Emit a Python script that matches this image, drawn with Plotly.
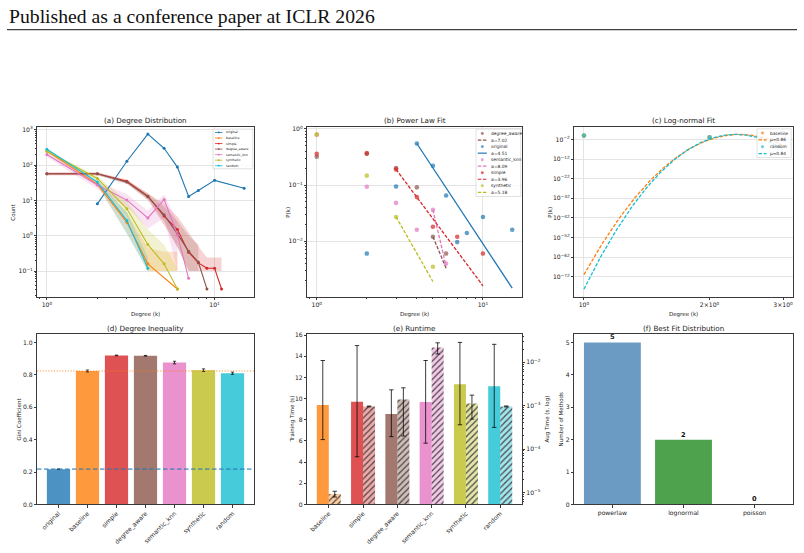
import numpy as np
import plotly.graph_objects as go

W, H = 804, 553
FONT = "DejaVu Sans"

# ------------------------------------------------------------------ data
METHODS = ["original", "baseline", "simple", "degree_aware", "semantic_knn", "synthetic", "random"]
COLORS = ["#1f77b4", "#ff7f0e", "#d62728", "#8c564b", "#e377c2", "#bcbd22", "#17becf"]

# (a) degree distribution (counts)
ORIG_K = [2, 3, 4, 5, 6, 7, 8, 10, 15]
ORIG_COUNT = [8, 129, 758, 300, 88, 13, 19, 37, 22]

BASE_K = [1, 2, 3, 4, 6]
BASE_MEAN = [250, 29, 2.4, 0.16, 0.031]
BASE_BAND_K = [1, 2, 3, 4, 5, 6]
BASE_LO = [232, 25, 1.2, 0.1, 0.1, 0.1]
BASE_HI = [268, 33, 4.5, 0.45, 0.35, 0.35]

SIMPLE_K = [1, 2, 3, 4, 5, 6, 7, 8, 9, 10, 11]
SIMPLE_MEAN = [57, 57, 34.8, 13.2, 3.6, 1.5, 0.34, 0.17, 0.12, 0.12, 0.031]
SIMPLE_BAND_K = [1, 2, 3, 4, 5, 6, 7, 8, 9, 10, 11]
SIMPLE_LO = [52, 52, 30, 10.5, 2.0, 0.5, 0.1, 0.1, 0.1, 0.1, 0.1]
SIMPLE_HI = [62, 62, 39, 16.5, 8, 3.5, 1.2, 0.5, 0.24, 0.24, 0.24]

DA_K = [1, 2, 3, 4, 5, 6, 7, 8, 9]
DA_MEAN = [57, 57, 33, 12.7, 3.9, 1.13, 0.36, 0.18, 0.031]
DA_BAND_K = [1, 2, 3, 4, 5, 6, 7, 8]
DA_LO = [52, 52, 29, 10.5, 2.5, 0.45, 0.1, 0.1]
DA_HI = [62, 62, 37, 15.5, 6.5, 2.6, 1.0, 0.55]

SEM_K = [1, 2, 3, 4, 5, 6, 7]
SEM_MEAN = [200, 27.5, 10.2, 3.2, 10.6, 1.07, 0.062]
SEM_BAND_K = [1, 2, 3, 4, 5, 6]
SEM_LO = [170, 21, 6.5, 1.6, 3.2, 0.1]
SEM_HI = [232, 35, 15, 5.2, 15, 2.5]

SYN_K = [1, 2, 3, 4, 5, 6]
SYN_MEAN = [246, 42, 5.8, 0.56, 0.16, 0.031]
SYN_BAND_K = [1, 2, 3, 4, 5, 6]
SYN_LO = [228, 36, 3.5, 0.1, 0.1, 0.1]
SYN_HI = [264, 49, 9.5, 1.5, 0.55, 0.12]

RAND_K = [1, 2, 3, 4]
RAND_MEAN = [280, 33, 2.7, 0.12]
RAND_BAND_K = [1, 2, 3, 4]
RAND_LO = [262, 29, 1.1, 0.1]
RAND_HI = [298, 37, 4.6, 0.25]

# (b) power-law fits: P(k) points and fitted segments
PL_ORDER = ["degree_aware", "original", "semantic_knn", "simple", "synthetic"]
PL_DA_K = [1, 2, 3, 4, 5, 6]
PL_DA_P = [0.32, 0.36, 0.2, 0.091, 0.012, 0.006]
PL_ORIG_K = [2, 3, 4, 5, 6, 7, 8, 10, 15]
PL_ORIG_P = [0.006, 0.094, 0.55, 0.22, 0.065, 0.0096, 0.014, 0.027, 0.016]
PL_SEM_K = [1, 2, 3, 4, 5, 6]
PL_SEM_P = [0.79, 0.093, 0.048, 0.016, 0.036, 0.004]
PL_SIM_K = [1, 2, 3, 4, 5, 7, 10]
PL_SIM_P = [0.36, 0.37, 0.19, 0.061, 0.018, 0.012, 0.006]
PL_SYN_K = [1, 2, 3, 5]
PL_SYN_P = [0.80, 0.147, 0.027, 0.0035]
PL_ALPHA = [7.02, 4.51, 8.09, 3.96, 5.18]
PL_FIT_K = [[5, 6], [4, 15], [5, 6], [3, 10], [3, 5]]
PL_FIT_P = [[0.012, 0.0033], [0.55, 0.00145], [0.036, 0.0036], [0.19, 0.0016], [0.027, 0.0019]]

# (c) log-normal fits
LN_NAMES = ["baseline", "random"]
LN_K = [1, 2]
LN_BASE_P = [0.888, 0.103]
LN_RAND_P = [0.886, 0.104]
LN_MU = [0.86, 0.84]
LN_SIGMA = [0.0473, 0.0440]
LN_KMAX = 3

# (d) Gini coefficient
GINI = [0.218, 0.824, 0.920, 0.918, 0.876, 0.829, 0.810]
GINI_ERR = [None, 0.006, 0.002, 0.002, 0.008, 0.008, 0.007]

# (e) runtime
RT_METHODS = METHODS[1:]
TRAIN_T = [9.40, 9.71, 8.56, 9.68, 11.36, 11.18]
TRAIN_ERR_UP = [4.2, 5.3, 2.27, 3.92, 3.95, 3.95]
TRAIN_ERR_DN = [3.27, 5.2, 2.15, 3.89, 3.83, 3.9]
AUG_T = [9.2e-6, 9.6e-4, 1.39e-3, 0.0219, 1.12e-3, 9.6e-4]
AUG_ERR = [1.4e-6, 2.0e-5, 1.19e-3, 0.0063, 6.3e-4, 2.5e-5]

# (f) best fit distribution
FIT_NAMES = ["powerlaw", "lognormal", "poisson"]
FIT_COUNTS = [5, 2, 0]
FIT_COLORS = ["#4682b4", "#228b22", "#ff7f50"]

# ------------------------------------------------------------------ helpers
def rgba(hexc, a):
    h = hexc.lstrip('#')
    return f"rgba({int(h[0:2],16)},{int(h[2:4],16)},{int(h[4:6],16)},{a})"

def PX(x):
    return x / W

def PY(y):
    return 1 - y / H

def sup(base, e):
    e = str(e).replace('-', '\u2212')
    return f"{base}<sup>{e}</sup>"

CMAP = dict(zip(METHODS, COLORS))
GRID = '#e4e4e4'
AX = '#3a3a3a'
TICK_FS = 6.1
LABEL_FS = 5.5

def axstyle(**kw):
    d = dict(showline=True, mirror=True, linecolor=AX, linewidth=0.8,
             ticks='outside', ticklen=2.2, tickwidth=0.6, tickcolor=AX,
             tickfont=dict(family=FONT, size=TICK_FS, color='#222'),
             showgrid=False, zeroline=False, fixedrange=True)
    d.update(kw)
    return d

def minor_log(lo, hi):
    vals = [m * 10.0 ** e for e in range(int(np.floor(lo)) - 1, int(np.ceil(hi)) + 1)
            for m in range(2, 10)]
    vals = [v for v in vals if lo <= np.log10(v) <= hi]
    return dict(tickmode='array', tickvals=vals, ticks='outside', ticklen=1.2,
                tickwidth=0.5, tickcolor=AX, showgrid=False)

shapes = []
annotations = []

def text(x, y, s, size, angle=0, xanchor='center', yanchor='middle', family=FONT, color='#1a1a1a'):
    annotations.append(dict(text=s, x=PX(x), y=PY(y), xref='paper', yref='paper',
                            xanchor=xanchor, yanchor=yanchor, showarrow=False, textangle=angle,
                            font=dict(family=family, size=size, color=color)))

def add_legend(box, rows, y0, dy, sx0, sx1, tx, fs, r, lw=1.0):
    bx0, by0, bx1, by1 = box
    shapes.append(dict(type='rect', xref='paper', yref='paper', layer='above',
                       x0=PX(bx0), x1=PX(bx1), y0=PY(by1), y1=PY(by0),
                       fillcolor='rgba(255,255,255,0.8)', line=dict(color='#cccccc', width=0.6)))
    cx = (sx0 + sx1) / 2
    for i, (label, color, kind, dash, alpha) in enumerate(rows):
        yy = y0 + i * dy
        if 'line' in kind:
            shapes.append(dict(type='line', xref='paper', yref='paper', layer='above',
                               x0=PX(sx0), x1=PX(sx1), y0=PY(yy), y1=PY(yy),
                               line=dict(color=color, width=lw, dash=dash)))
        if 'marker' in kind:
            shapes.append(dict(type='circle', xref='paper', yref='paper', layer='above',
                               x0=PX(cx - r), x1=PX(cx + r), y0=PY(yy + r), y1=PY(yy - r),
                               fillcolor=rgba(color, alpha), line=dict(width=0)))
        annotations.append(dict(text=label, x=PX(tx), y=PY(yy), xref='paper', yref='paper',
                                xanchor='left', yanchor='middle', showarrow=False,
                                font=dict(family=FONT, size=fs, color='#222')))

fig = go.Figure()

# ------------------------------------------------------------------ (a)
A_SERIES = [
    ("baseline", BASE_K, BASE_MEAN, BASE_BAND_K, BASE_LO, BASE_HI),
    ("simple", SIMPLE_K, SIMPLE_MEAN, SIMPLE_BAND_K, SIMPLE_LO, SIMPLE_HI),
    ("degree_aware", DA_K, DA_MEAN, DA_BAND_K, DA_LO, DA_HI),
    ("semantic_knn", SEM_K, SEM_MEAN, SEM_BAND_K, SEM_LO, SEM_HI),
    ("synthetic", SYN_K, SYN_MEAN, SYN_BAND_K, SYN_LO, SYN_HI),
    ("random", RAND_K, RAND_MEAN, RAND_BAND_K, RAND_LO, RAND_HI),
]
for name, K, M, BK, LO, HI in A_SERIES:
    fig.add_trace(go.Scatter(x=BK + BK[::-1], y=HI + LO[::-1], fill='toself',
                             fillcolor=rgba(CMAP[name], 0.2), line=dict(width=0),
                             mode='lines', xaxis='x', yaxis='y', hoverinfo='skip'))
fig.add_trace(go.Scatter(x=ORIG_K, y=ORIG_COUNT, mode='lines+markers', xaxis='x', yaxis='y',
                         line=dict(color=CMAP['original'], width=1.1),
                         marker=dict(size=3, color=CMAP['original'])))
for name, K, M, BK, LO, HI in A_SERIES:
    fig.add_trace(go.Scatter(x=K, y=M, mode='lines+markers', xaxis='x', yaxis='y',
                             line=dict(color=CMAP[name], width=1.1),
                             marker=dict(size=3, color=CMAP[name])))

add_legend((213, 127.5, 252.8, 167.6),
           [(m, CMAP[m], 'line+marker', 'solid', 1.0) for m in METHODS],
           y0=130.9, dy=5.6, sx0=215, sx1=222.5, tx=224, fs=3.2, r=0.9, lw=0.8)

# ------------------------------------------------------------------ (b)
PL_POINTS = [(PL_DA_K, PL_DA_P), (PL_ORIG_K, PL_ORIG_P), (PL_SEM_K, PL_SEM_P),
             (PL_SIM_K, PL_SIM_P), (PL_SYN_K, PL_SYN_P)]
leg_b = []
for i, name in enumerate(PL_ORDER):
    c = CMAP[name]
    ks, ps = PL_POINTS[i]
    fig.add_trace(go.Scatter(x=ks, y=ps, mode='markers', xaxis='x2', yaxis='y2',
                             marker=dict(size=4.6, color=rgba(c, 0.7), line=dict(width=0))))
    dash = 'solid' if name == 'original' else '3.5px,1.6px'
    fig.add_trace(go.Scatter(x=PL_FIT_K[i], y=PL_FIT_P[i], mode='lines', xaxis='x2', yaxis='y2',
                             line=dict(color=c, width=1.3, dash=dash)))
    leg_b.append((name, c, 'marker', None, 0.7))
    leg_b.append((f"\u03b1={PL_ALPHA[i]:.2f}", c, 'line', dash, 1.0))
add_legend((476, 127.5, 520.8, 195.6), leg_b, y0=132.0, dy=6.6,
           sx0=477.8, sx1=486.8, tx=488.8, fs=4.4, r=1.5, lw=1.2)

# ------------------------------------------------------------------ (c)
LN_POINTS = [LN_BASE_P, LN_RAND_P]
leg_c = []
for i, name in enumerate(LN_NAMES):
    c = CMAP[name]
    fig.add_trace(go.Scatter(x=LN_K, y=LN_POINTS[i], mode='markers', xaxis='x3', yaxis='y3',
                             marker=dict(size=4.6, color=rgba(c, 0.7), line=dict(width=0))))
    kk = np.linspace(1, LN_KMAX, 300)
    mu, sg = LN_MU[i], LN_SIGMA[i]
    pdf = np.exp(-(np.log(kk) - mu) ** 2 / (2 * sg ** 2)) / (kk * sg * np.sqrt(2 * np.pi))
    fig.add_trace(go.Scatter(x=kk, y=pdf, mode='lines', xaxis='x3', yaxis='y3',
                             line=dict(color=c, width=1.3, dash='3.5px,1.6px')))
    leg_c.append((name, c, 'marker', None, 0.7))
    leg_c.append((f"\u03bc={mu:.2f}", c, 'line', '3.5px,1.6px', 1.0))
add_legend((757, 127.2, 791.2, 156.2), leg_c, y0=131.5, dy=6.9,
           sx0=758.5, sx1=766.5, tx=768.3, fs=4.3, r=1.5, lw=1.2)

# ------------------------------------------------------------------ (d)
fig.add_trace(go.Bar(x=list(range(len(METHODS))), y=GINI, width=0.8, xaxis='x4', yaxis='y4',
                     marker=dict(color=[rgba(c, 0.8) for c in COLORS], line=dict(width=0)),
                     error_y=dict(type='data', array=GINI_ERR, color='#111', thickness=0.8, width=1.6)))
shapes.append(dict(type='line', xref='x4 domain', yref='y4', x0=0, x1=1, y0=GINI[0], y1=GINI[0],
                   layer='above', line=dict(color=rgba(COLORS[0], 0.6), width=1.8, dash='4.5px,2.5px')))
shapes.append(dict(type='line', xref='x4 domain', yref='y4', x0=0, x1=1, y0=GINI[1], y1=GINI[1],
                   layer='above', line=dict(color=rgba(COLORS[1], 0.8), width=1.0, dash='1.2px,1.6px')))

# ------------------------------------------------------------------ (e)
RT_COLORS = COLORS[1:]
idx = np.arange(len(RT_METHODS))
fig.add_trace(go.Bar(x=idx - 0.175, y=TRAIN_T, width=0.35, xaxis='x5', yaxis='y5',
                     marker=dict(color=[rgba(c, 0.8) for c in RT_COLORS], line=dict(width=0)),
                     error_y=dict(type='data', symmetric=False, array=TRAIN_ERR_UP,
                                  arrayminus=TRAIN_ERR_DN, color='rgba(0,0,0,0.85)',
                                  thickness=0.9, width=2.2)))
fig.add_trace(go.Bar(x=idx + 0.175, y=AUG_T, width=0.35, xaxis='x5', yaxis='y7',
                     marker=dict(color=[rgba(c, 0.4) for c in RT_COLORS], line=dict(width=0),
                                 pattern=dict(shape='/', fgcolor='#1a1a1a', fgopacity=0.95, size=4.3,
                                              solidity=0.3, fillmode='overlay')),
                     error_y=dict(type='data', array=AUG_ERR, color='rgba(0,0,0,0.85)',
                                  thickness=0.9, width=2.2)))

# ------------------------------------------------------------------ (f)
fig.add_trace(go.Bar(x=list(range(len(FIT_NAMES))), y=FIT_COUNTS, width=0.8, xaxis='x6', yaxis='y6',
                     marker=dict(color=[rgba(c, 0.8) for c in FIT_COLORS], line=dict(width=0))))
for i, v in enumerate(FIT_COUNTS):
    annotations.append(dict(text=f"<b>{v}</b>", x=i, y=v, xref='x6', yref='y6',
                            xanchor='center', yanchor='bottom', showarrow=False, borderpad=0,
                            font=dict(family=FONT, size=6.6, color='#111')))

# ------------------------------------------------------------------ layout / axes
COLS = [(37, 254), (307, 522), (574, 793)]
ROWS = [(125, 297), (335, 507)]

def dom_x(c):
    return [PX(COLS[c][0]), PX(COLS[c][1])]

def dom_y(r):
    return [PY(ROWS[r][1]), PY(ROWS[r][0])]

lay = dict(width=W, height=H, margin=dict(l=0, r=0, t=0, b=0),
           paper_bgcolor='white', plot_bgcolor='white', showlegend=False,
           barmode='overlay', font=dict(family=FONT, color='#222'))

# (a)
lay['xaxis'] = axstyle(domain=dom_x(0), anchor='y', type='log', range=[-0.0588, 1.2349],
                       tickvals=[1, 10], ticktext=[sup(10, 0), sup(10, 1)],
                       showgrid=True, gridcolor=GRID, gridwidth=0.6, minor=minor_log(-0.0588, 1.2349))
lay['yaxis'] = axstyle(domain=dom_y(0), anchor='x', type='log', range=[-1.73, 3.09],
                       tickvals=[0.1, 1, 10, 100, 1000],
                       ticktext=[sup(10, -1), sup(10, 0), sup(10, 1), sup(10, 2), sup(10, 3)],
                       showgrid=True, gridcolor=GRID, gridwidth=0.6, minor=minor_log(-1.73, 3.09))
# (b)
lay['xaxis2'] = axstyle(domain=dom_x(1), anchor='y2', type='log', range=[-0.0588, 1.2349],
                        tickvals=[1, 10], ticktext=[sup(10, 0), sup(10, 1)],
                        showgrid=True, gridcolor=GRID, gridwidth=0.6, minor=minor_log(-0.0588, 1.2349))
lay['yaxis2'] = axstyle(domain=dom_y(0), anchor='x2', type='log', range=[-2.992, 0.041],
                        tickvals=[0.01, 0.1, 1], ticktext=[sup(10, -2), sup(10, -1), sup(10, 0)],
                        showgrid=True, gridcolor=GRID, gridwidth=0.6, minor=minor_log(-2.992, 0.041))
# (c)
c_y_ticks = [10.0 ** e for e in range(-2, -80, -10)]
lay['xaxis3'] = axstyle(domain=dom_x(2), anchor='y3', type='log', range=[-0.0239, 0.5010],
                        tickvals=[1, 2, 3], ticktext=[sup(10, 0), '2\u00d7' + sup(10, 0), '3\u00d7' + sup(10, 0)],
                        minor=dict(tickmode='array', tickvals=[1], ticks='', showgrid=True,
                                   gridcolor=GRID, gridwidth=0.6))
lay['yaxis3'] = axstyle(domain=dom_y(0), anchor='x3', type='log', range=[-82.1, 4.5],
                        tickvals=c_y_ticks, ticktext=[sup(10, e) for e in range(-2, -80, -10)],
                        showgrid=True, gridcolor=GRID, gridwidth=0.6)
# (d)
lay['xaxis4'] = axstyle(domain=dom_x(0), anchor='y4', range=[-0.74, 6.74],
                        tickvals=list(range(len(METHODS))), ticktext=METHODS, tickangle=-45)
lay['yaxis4'] = axstyle(domain=dom_y(1), anchor='x4', range=[0, 1.05],
                        tickvals=[0, 0.2, 0.4, 0.6, 0.8, 1.0],
                        ticktext=['0.0', '0.2', '0.4', '0.6', '0.8', '1.0'])
# (e)
lay['xaxis5'] = axstyle(domain=dom_x(1), anchor='y5', range=[-0.635, 5.635],
                        tickvals=list(idx), ticktext=RT_METHODS, tickangle=-45)
lay['yaxis5'] = axstyle(domain=dom_y(1), anchor='x5', range=[0, 16.07], mirror=False,
                        tickvals=[0, 2, 4, 6, 8, 10, 12, 14, 16])
lay['yaxis7'] = axstyle(overlaying='y5', anchor='x5', side='right', type='log', mirror=False,
                        range=[-5.28, -1.355], tickvals=[1e-5, 1e-4, 1e-3, 1e-2],
                        ticktext=[sup(10, -5), sup(10, -4), sup(10, -3), sup(10, -2)],
                        minor=minor_log(-5.28, -1.355))
# (f)
lay['xaxis6'] = axstyle(domain=dom_x(2), anchor='y6', range=[-0.54, 2.54],
                        tickvals=list(range(len(FIT_NAMES))), ticktext=FIT_NAMES)
lay['yaxis6'] = axstyle(domain=dom_y(1), anchor='x6', range=[0, 5.25], tickvals=[0, 1, 2, 3, 4, 5])

# ------------------------------------------------------------------ text
text(6.5, 12.8, "Published as a conference paper at ICLR 2026", 19.7, xanchor='left',
     family="Liberation Serif", color='#111')
shapes.append(dict(type='line', xref='paper', yref='paper', x0=PX(7), x1=PX(797),
                   y0=PY(27), y1=PY(27), line=dict(color='#111', width=1)))

TITLES = ["(a) Degree Distribution", "(b) Power Law Fit", "(c) Log-normal Fit",
          "(d) Degree Inequality", "(e) Runtime", "(f) Best Fit Distribution"]
for i, t in enumerate(TITLES):
    r, c = divmod(i, 3)
    text((COLS[c][0] + COLS[c][1]) / 2, ROWS[r][0] - 5.8, t, 7.2)

for c in range(3):
    text((COLS[c][0] + COLS[c][1]) / 2, 315, "Degree (k)", LABEL_FS)
text(13, 212, "Count", LABEL_FS, angle=-90)
text(288, 212, "P(k)", LABEL_FS, angle=-90)
text(550, 212, "P(k)", LABEL_FS, angle=-90)
text(19, 421, "Gini Coefficient", LABEL_FS, angle=-90)
text(292, 421, "Training Time (s)", LABEL_FS, angle=-90)
text(547, 421, "Aug Time (s, log)", LABEL_FS, angle=-90)
text(561, 421, "Number of Methods", LABEL_FS, angle=-90)

lay['shapes'] = shapes
lay['annotations'] = annotations
fig.update_layout(**lay)
fig.update_traces(hoverinfo='skip')

fig.write_html("out.html")
